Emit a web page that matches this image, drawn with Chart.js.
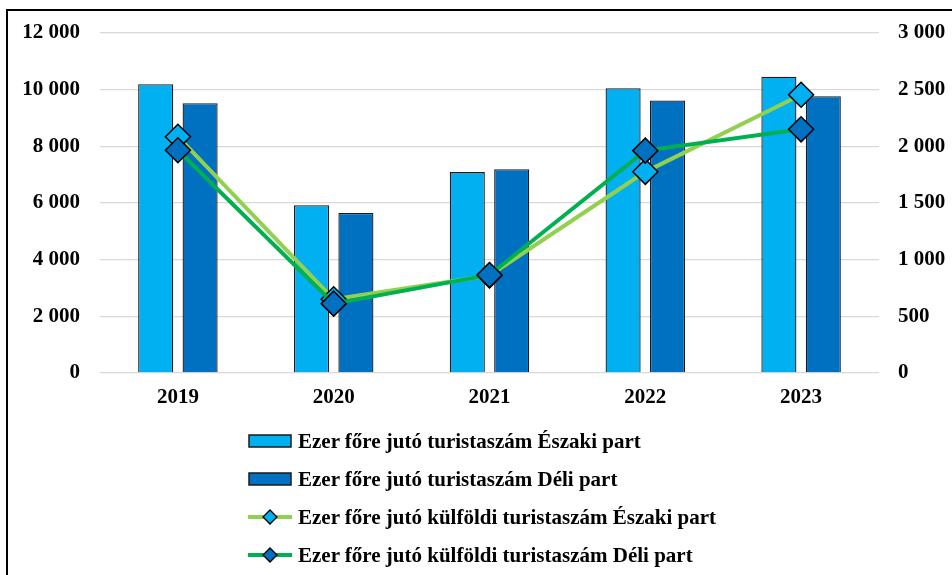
<!DOCTYPE html>
<html>
<head>
<meta charset="utf-8">
<script src="https://cdn.jsdelivr.net/npm/chart.js@4/dist/chart.umd.min.js"></script>
<style>
  html, body { margin: 0; padding: 0; background: #fff; overflow: hidden; }
  #wrap { position: relative; width: 952px; height: 575px; }
  #keret { position: absolute; left: 6px; top: 9px; width: 1000px; height: 700px;
           border-left: 2px solid #000; border-top: 2px solid #000; }
  canvas { position: absolute; left: 0; top: 0; }
  #jelmagyarazat { position: absolute; left: 248px; top: 422px;
                   font-family: "Liberation Serif", "Times New Roman", serif;
                   font-weight: bold; font-size: 21px; color: #000; }
  .sor { height: 38px; display: flex; align-items: center; white-space: nowrap; }
  .sor svg { margin-right: 6px; flex: none; }
</style>
</head>
<body>
<div id="wrap">
  <div id="keret"></div>
  <canvas id="grafico" width="952" height="575"></canvas>
  <div id="jelmagyarazat"></div>
</div>
<script>
// ============================
// ADATOK
// ============================
const evek = ["2019", "2020", "2021", "2022", "2023"];

const turistaEszaki = [10190, 5920, 7090, 10050, 10460];
const turistaDeli = [9520, 5650, 7190, 9620, 9770];

const kulfoldiEszaki = [2085, 650, 860, 1775, 2455];
const kulfoldiDeli = [1965, 612, 865, 1962, 2150];

const balTengely = [0, 2000, 4000, 6000, 8000, 10000, 12000];
const jobbTengely = [0, 500, 1000, 1500, 2000, 2500, 3000];

const cimkek = [
  "Ezer főre jutó turistaszám Északi part",
  "Ezer főre jutó turistaszám Déli part",
  "Ezer főre jutó külföldi turistaszám Északi part",
  "Ezer főre jutó külföldi turistaszám Déli part",
];

// ============================
// SZÍNEK, BETŰK
// ============================
const vilagosKek = "#00B0F0";
const sotetKek = "#0070C0";
const vilagosZold = "#92D050";
const sotetZold = "#00B050";
const racs = "#D9D9D9";
const betu = { family: '"Liberation Serif", "Times New Roman", serif', size: 21, weight: "bold" };

function ezres(v) {
  return String(v).replace(/\B(?=(\d{3})+(?!\d))/g, " ");
}

// ============================
// GRAFIKON
// ============================
const chart = new Chart(document.getElementById("grafico"), {
  type: "bar",
  data: {
    labels: evek,
    datasets: [
      {
        type: "line",
        label: cimkek[3],
        data: kulfoldiDeli,
        yAxisID: "y2",
        order: 0,
        borderColor: sotetZold,
        borderWidth: 4,
        pointStyle: "rectRot",
        pointRadius: 12.5,
        pointBackgroundColor: sotetKek,
        pointBorderColor: "#000",
        pointBorderWidth: 1.5,
        tension: 0,
      },
      {
        type: "line",
        label: cimkek[2],
        data: kulfoldiEszaki,
        yAxisID: "y2",
        order: 1,
        borderColor: vilagosZold,
        borderWidth: 4,
        pointStyle: "rectRot",
        pointRadius: 12.5,
        pointBackgroundColor: vilagosKek,
        pointBorderColor: "#000",
        pointBorderWidth: 1.5,
        tension: 0,
      },
      {
        label: cimkek[0],
        data: turistaEszaki,
        yAxisID: "y",
        order: 2,
        backgroundColor: vilagosKek,
        borderColor: "#1a1a1a",
        borderWidth: 1.3,
        categoryPercentage: 0.57,
        barPercentage: 0.79,
      },
      {
        label: cimkek[1],
        data: turistaDeli,
        yAxisID: "y",
        order: 2,
        backgroundColor: sotetKek,
        borderColor: "#1a1a1a",
        borderWidth: 1.3,
        categoryPercentage: 0.57,
        barPercentage: 0.79,
      },
    ],
  },
  options: {
    responsive: false,
    animation: false,
    layout: { padding: { top: 33, left: 0, right: 0, bottom: 0 } },
    plugins: { legend: { display: false }, tooltip: { enabled: false } },
    scales: {
      x: {
        grid: { display: false, drawTicks: false },
        border: { display: false },
        ticks: { color: "#000", font: betu, padding: 12 },
        afterFit: (s) => { s.height = 575 - 373; },
      },
      y: {
        position: "left",
        min: balTengely[0],
        max: balTengely[balTengely.length - 1],
        afterBuildTicks: (s) => { s.ticks = balTengely.map((v) => ({ value: v })); },
        grid: { color: racs, lineWidth: 1.3, drawTicks: false },
        border: { display: false },
        ticks: { color: "#000", font: betu, padding: 20, callback: (v) => ezres(v) },
        afterFit: (s) => { s.width = 100; },
      },
      y2: {
        position: "right",
        min: jobbTengely[0],
        max: jobbTengely[jobbTengely.length - 1],
        afterBuildTicks: (s) => { s.ticks = jobbTengely.map((v) => ({ value: v })); },
        grid: { drawOnChartArea: false, drawTicks: false },
        border: { display: false },
        ticks: { color: "#000", font: betu, padding: 19, callback: (v) => ezres(v) },
        afterFit: (s) => { s.width = 952 - 879; },
      },
    },
  },
});

// ============================
// JELMAGYARÁZAT
// ============================
function jelmagyarazat() {
  const cont = document.getElementById("jelmagyarazat");
  const sorrend = [2, 3, 1, 0]; // oszlopok, majd vonalak
  cont.innerHTML = sorrend
    .map((i) => {
      const ds = chart.data.datasets[i];
      let jel;
      if (ds.type === "line") {
        jel = `<svg width="44" height="18">
          <line x1="0" y1="9" x2="44" y2="9" stroke="${ds.borderColor}" stroke-width="4"/>
          <polygon points="22,2 29,9 22,16 15,9" fill="${ds.pointBackgroundColor}" stroke="#000" stroke-width="1.3"/>
        </svg>`;
      } else {
        jel = `<svg width="44" height="18">
          <rect x="1" y="3" width="42" height="12" fill="${ds.backgroundColor}" stroke="#1a1a1a" stroke-width="1.5"/>
        </svg>`;
      }
      return `<div class="sor">${jel}<span>${ds.label}</span></div>`;
    })
    .join("");
}
jelmagyarazat();
</script>
</body>
</html>
